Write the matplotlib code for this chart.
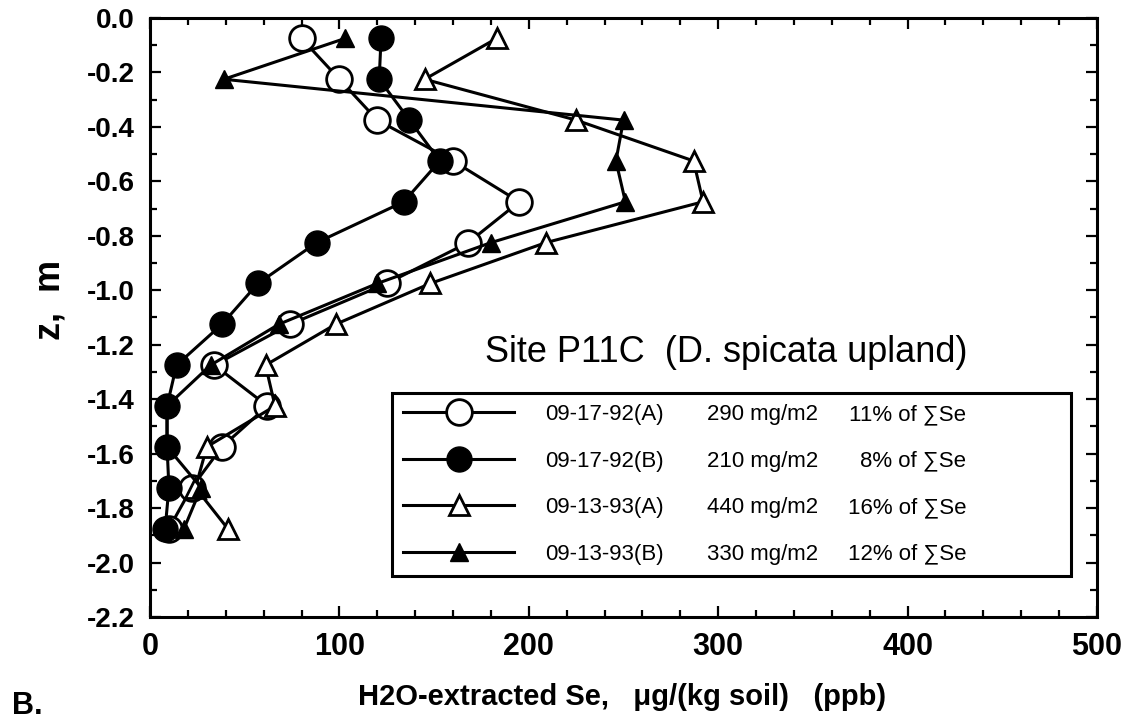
import matplotlib
matplotlib.use("Agg")
import matplotlib.pyplot as plt
from matplotlib.ticker import MultipleLocator, FixedLocator
from matplotlib.font_manager import FontProperties

# ---------------- data ----------------
depth = [-0.075, -0.225, -0.375, -0.525, -0.675, -0.825, -0.975,
         -1.125, -1.275, -1.425, -1.575, -1.725, -1.875]
se_92a = [80, 100, 120, 160, 195, 168, 125, 74, 34, 62, 38, 22, 10]
se_92b = [122, 121, 137, 153, 134, 88, 57, 38, 14, 9, 9, 10, 8]
se_93a = [183, 145, 225, 287, 292, 209, 148, 98, 61, 66, 30, 24, 41]
se_93b = [103, 39, 250, 246, 251, 180, 120, 68, 32, 9, 9, 27, 18]

series_labels = ["09-17-92(A)", "09-17-92(B)", "09-13-93(A)", "09-13-93(B)"]
amounts = ["290 mg/m2", "210 mg/m2", "440 mg/m2", "330 mg/m2"]
percents = ["11% of \u2211Se", "8% of \u2211Se", "16% of \u2211Se", "12% of \u2211Se"]

xticks = [0, 100, 200, 300, 400, 500]
xticklabels = ["0", "100", "200", "300", "400", "500"]
yticks = [0.0, -0.2, -0.4, -0.6, -0.8, -1.0, -1.2, -1.4, -1.6, -1.8, -2.0, -2.2]
yticklabels = ["0.0", "-0.2", "-0.4", "-0.6", "-0.8", "-1.0", "-1.2",
               "-1.4", "-1.6", "-1.8", "-2.0", "-2.2"]

title_text = "Site P11C  (D. spicata upland)"
xlabel_text = "H2O-extracted Se,   \u03bcg/(kg soil)   (ppb)"
ylabel_text = "z,  m"
panel_text = "B."

# ---------------- style ----------------
SANS = ["Liberation Sans", "DejaVu Sans"]
NARROW = ["Liberation Sans Narrow", "Liberation Sans", "DejaVu Sans"]

W, H = 1137, 723
fig = plt.figure(figsize=(W / 100, H / 100), dpi=100)
ax = fig.add_axes([150 / W, 1 - 617 / H, 947 / W, 599 / H])

styles = [
    dict(marker="o", mfc="white", mec="black", ms=18.5, mew=2.0),
    dict(marker="o", mfc="black", mec="black", ms=18, mew=1.0),
    dict(marker="^", mfc="white", mec="black", ms=15, mew=2.0),
    dict(marker="^", mfc="black", mec="black", ms=13, mew=1.0),
]
all_series = [se_92a, se_92b, se_93a, se_93b]
handles = []
for vals, st in zip(all_series, styles):
    (ln,) = ax.plot(vals, depth, color="black", lw=2.2, **st)
    handles.append(ln)

ax.set_xlim(0, 500)
ax.set_ylim(-2.2, 0.0)

ax.xaxis.set_major_locator(FixedLocator(xticks))
ax.xaxis.set_minor_locator(MultipleLocator(20))
ax.yaxis.set_major_locator(FixedLocator(yticks))
ax.yaxis.set_minor_locator(MultipleLocator(0.1))
ax.set_xticklabels(xticklabels)
ax.set_yticklabels(yticklabels)

ax.tick_params(which="both", direction="in", top=True, right=True, width=1.6, color="black")
ax.tick_params(which="major", length=8)
ax.tick_params(which="minor", length=5)
ax.tick_params(axis="x", which="major", pad=11)
ax.tick_params(axis="y", which="major", pad=11)
for lab in ax.get_xticklabels():
    lab.set_fontsize(22)
    lab.set_fontweight("bold")
    lab.set_family(SANS)
for lab in ax.get_yticklabels():
    lab.set_fontsize(20)
    lab.set_fontweight("bold")
    lab.set_family(SANS)
for sp in ax.spines.values():
    sp.set_linewidth(2.2)

# title inside plot
ax.text(0.354, 0.441, title_text, transform=ax.transAxes, ha="left", va="center",
        fontsize=26, family=SANS)

# legend
x0 = (392 - 150) / 947
x1 = (1071 - 150) / 947
ytop = 1 - (393 - 18) / 599
ybot = 1 - (578 - 18) / 599
leg = ax.legend(handles, series_labels, loc="upper left",
                bbox_to_anchor=(x0, ybot, x1 - x0, ytop - ybot), mode="expand",
                borderaxespad=0.0, frameon=True, fancybox=False, framealpha=1,
                edgecolor="black", borderpad=0.5, labelspacing=1.15,
                handlelength=5.0, handletextpad=1.4,
                prop=FontProperties(family=NARROW, size=16))
leg.get_frame().set_linewidth(2.2)

fig.canvas.draw()
inv = ax.transAxes.inverted()
amt_x = (707 - 150) / 947
pct_x = (966 - 150) / 947
for t, amt, pct in zip(leg.get_texts(), amounts, percents):
    bb = t.get_window_extent()
    yc = inv.transform((0, (bb.y0 + bb.y1) / 2))[1]
    ax.text(amt_x, yc, amt, transform=ax.transAxes, ha="left", va="center",
            fontsize=16, family=NARROW, zorder=10)
    ax.text(pct_x, yc, pct, transform=ax.transAxes, ha="right", va="center",
            fontsize=16, family=NARROW, zorder=10)

# axis labels
fig.text(622 / W, 1 - 697 / H, xlabel_text, ha="center", va="center",
         fontsize=21, fontweight="bold", family=NARROW)
fig.text(50 / W, 1 - 300 / H, ylabel_text, ha="center", va="center", rotation=90,
         fontsize=26, fontweight="bold", family=SANS)
fig.text(12 / W, 1 - 706 / H, panel_text, ha="left", va="center",
         fontsize=22, fontweight="bold", family=SANS)

fig.savefig("out.png", dpi=100)
